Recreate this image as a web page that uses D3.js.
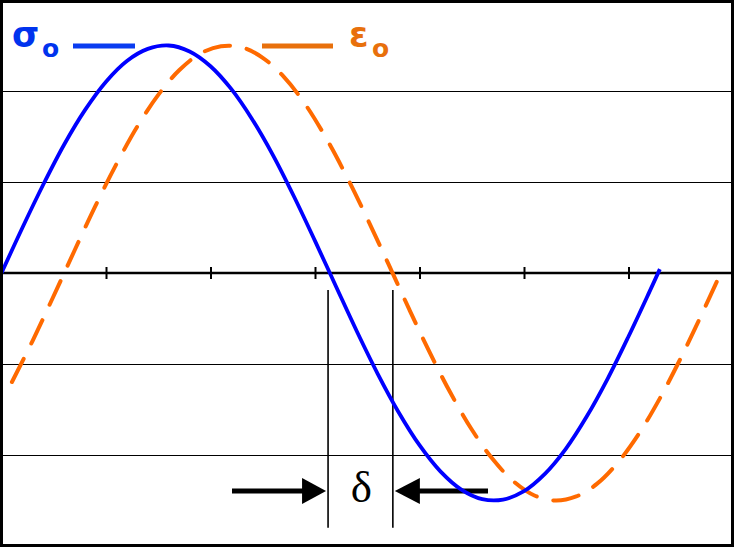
<!DOCTYPE html>
<html>
<head>
<meta charset="utf-8">
<script src="https://cdn.jsdelivr.net/npm/d3@7/dist/d3.min.js"></script>
<style>
  html, body { margin: 0; padding: 0; background: #fff; }
  svg { display: block; }
</style>
</head>
<body>
<svg id="chart" width="735" height="548"></svg>
<script>
// ---- data (radians on x, normalized amplitude on y) ----
const stressX = [0,0.2,0.4,0.6,0.8,1.0,1.2,1.4,1.6,1.8,2.0,2.2,2.4,2.6,2.8,3.0,3.2,3.4,3.6,3.8,4.0,4.2,4.4,4.6,4.8,5.0,5.2,5.4,5.6,5.8,6.0,6.2,6.3];
const stressY = [0,0.199,0.389,0.565,0.717,0.841,0.932,0.985,1.0,0.974,0.909,0.808,0.675,0.516,0.335,0.141,-0.058,-0.256,-0.443,-0.612,-0.757,-0.872,-0.952,-0.994,-0.996,-0.959,-0.883,-0.773,-0.631,-0.465,-0.279,-0.083,0.017];
const strainX = [0.1,0.3,0.5,0.7,0.9,1.1,1.3,1.5,1.7,1.9,2.1,2.3,2.5,2.7,2.9,3.1,3.3,3.5,3.7,3.9,4.1,4.3,4.5,4.7,4.9,5.1,5.3,5.5,5.7,5.9,6.1,6.3,6.5,6.7,6.9];
const strainY = [-0.479,-0.296,-0.100,0.100,0.296,0.479,0.644,0.783,0.891,0.964,0.997,0.992,0.946,0.863,0.746,0.598,0.427,0.239,0.042,-0.158,-0.351,-0.530,-0.688,-0.818,-0.916,-0.978,-1.0,-0.982,-0.926,-0.832,-0.706,-0.551,-0.374,-0.182,0.017];
const xTicks = [1,2,3,4,5,6];
const gridValues = [0.8,0.4,-0.4,-0.8];
const deltaLines = [3.125,3.745];     // zero crossings of the two waves
const legendLabels = ["σ", "ε"];
const legendSub = "o";
const deltaLabel = "δ";

// ---- layout ----
const W = 735, H = 548;
const x = d3.scaleLinear().domain([0, 7]).range([1.5, 733]);
const y = d3.scaleLinear().domain([-1.2, 1.2]).range([546, 0]);

const svg = d3.select("#chart");

// gridlines
svg.append("g").selectAll("line").data(gridValues).join("line")
  .attr("x1", x(0)).attr("x2", x(7))
  .attr("y1", d => Math.round(y(d)) + 0.5).attr("y2", d => Math.round(y(d)) + 0.5)
  .attr("stroke", "#000").attr("stroke-width", 1);

// x axis through zero with crossing ticks
const axisG = svg.append("g")
  .attr("transform", `translate(0,${y(0)})`)
  .call(d3.axisBottom(x).tickValues(xTicks).tickSize(6).tickFormat(""));
axisG.select(".domain").attr("d", `M${x(0)},0H${x(7)}`).attr("stroke", "#000").attr("stroke-width", 2.5);
axisG.selectAll(".tick line").attr("y1", -6).attr("y2", 6).attr("stroke", "#000").attr("stroke-width", 2);

// delta marker lines
svg.append("g").selectAll("line").data(deltaLines).join("line")
  .attr("x1", d => x(d)).attr("x2", d => x(d))
  .attr("y1", y(-0.075)).attr("y2", y(-1.12))
  .attr("stroke", "#000").attr("stroke-width", 1.6);

// arrows
const ay = y(-0.958);
const arrows = svg.append("g");
arrows.append("line").attr("x1", 232).attr("x2", x(deltaLines[0]) - 22)
  .attr("y1", ay).attr("y2", ay).attr("stroke", "#000").attr("stroke-width", 5);
arrows.append("path")
  .attr("d", `M${x(deltaLines[0]) - 2},${ay} L${x(deltaLines[0]) - 26},${ay - 13} L${x(deltaLines[0]) - 26},${ay + 13} Z`)
  .attr("fill", "#000");
arrows.append("line").attr("x1", x(deltaLines[1]) + 22).attr("x2", 488)
  .attr("y1", ay).attr("y2", ay).attr("stroke", "#000").attr("stroke-width", 5);
arrows.append("path")
  .attr("d", `M${x(deltaLines[1]) + 2},${ay} L${x(deltaLines[1]) + 27},${ay - 13} L${x(deltaLines[1]) + 27},${ay + 13} Z`)
  .attr("fill", "#000");

svg.append("text")
  .attr("x", (x(deltaLines[0]) + x(deltaLines[1])) / 2 + 1)
  .attr("y", 502)
  .attr("text-anchor", "middle")
  .attr("font-family", "'Liberation Serif', 'Times New Roman', serif")
  .attr("font-size", 45)
  .attr("fill", "#000")
  .text(deltaLabel);

// curves
const line = d3.line().x(d => x(d[0])).y(d => y(d[1])).curve(d3.curveCatmullRom);
const strain = strainX.map((v, i) => [v, strainY[i]]);
const stress = stressX.map((v, i) => [v, stressY[i]]);

svg.append("path").datum(strain)
  .attr("d", line).attr("fill", "none")
  .attr("stroke", "#ff6a00").attr("stroke-width", 4)
  .attr("stroke-dasharray", "26,17").attr("stroke-linecap", "round")
  .attr("stroke-linejoin", "round");

svg.append("path").datum(stress)
  .attr("d", line).attr("fill", "none")
  .attr("stroke", "#0000ff").attr("stroke-width", 3.8)
  .attr("stroke-linejoin", "round");

// legend
const legFont = "'DejaVu Sans', 'Liberation Sans', Arial, sans-serif";
const leg = svg.append("g");
leg.append("text").attr("x", 12).attr("y", 47)
  .attr("font-family", legFont).attr("font-weight", "bold").attr("font-size", 35)
  .attr("fill", "#0033ee").text(legendLabels[0]);
leg.append("text").attr("x", 42).attr("y", 57)
  .attr("font-family", legFont).attr("font-weight", "bold").attr("font-size", 25)
  .attr("fill", "#0033ee").text(legendSub);
leg.append("line").attr("x1", 73).attr("x2", 135).attr("y1", 46).attr("y2", 46)
  .attr("stroke", "#0a3cf0").attr("stroke-width", 5);

leg.append("line").attr("x1", 262).attr("x2", 333).attr("y1", 46).attr("y2", 46)
  .attr("stroke", "#e8700c").attr("stroke-width", 5);
leg.append("text").attr("x", 349).attr("y", 47)
  .attr("font-family", legFont).attr("font-weight", "bold").attr("font-size", 35)
  .attr("fill", "#e8700c").text(legendLabels[1]);
leg.append("text").attr("x", 372).attr("y", 57)
  .attr("font-family", legFont).attr("font-weight", "bold").attr("font-size", 25)
  .attr("fill", "#e8700c").text(legendSub);

// frame
svg.append("rect").attr("x", 1.5).attr("y", 1.5).attr("width", 731).attr("height", 544)
  .attr("fill", "none").attr("stroke", "#000").attr("stroke-width", 3);
</script>
</body>
</html>
